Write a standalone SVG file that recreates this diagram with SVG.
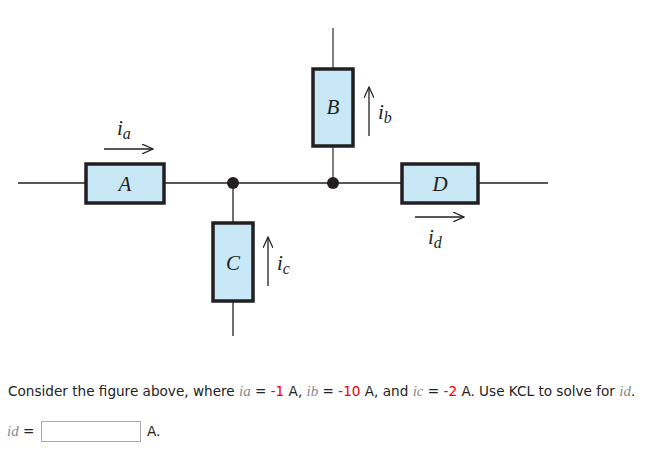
<svg xmlns="http://www.w3.org/2000/svg" width="658" height="452" viewBox="0 0 658 452">
<defs>
<style>
.box{fill:#c8e8f8;stroke:#231f20;stroke-width:3.5}
.w{stroke:#231f20;stroke-width:1.3;fill:none}
.g{stroke:#808080;stroke-width:2;fill:none}
.lbl{font-family:"Liberation Serif",serif;font-style:italic;font-size:21px;fill:#231f20;text-anchor:middle}
.cur{font-family:"Liberation Serif",serif;font-style:italic;font-size:21px;fill:#231f20}
.sub{font-size:16px}
.t{font-family:"DejaVu Sans",Verdana,sans-serif;font-size:13.6px;fill:#222}
.r{fill:#e00}
.v{font-family:"Liberation Serif",serif;font-style:italic;font-size:15px;fill:#888}
</style>
<marker id="ar" markerWidth="12" markerHeight="10" refX="11" refY="5" orient="auto" markerUnits="userSpaceOnUse">
<path d="M0,0 L11,5 L0,10" fill="none" stroke="#231f20" stroke-width="1.2"/>
</marker>
</defs>
<g id="connectors">
<line class="w" x1="18" y1="183" x2="548" y2="183"/>
<line class="g" x1="333" y1="28" x2="333" y2="183"/>
<line class="w" x1="233" y1="183" x2="233" y2="336"/>
<line class="w" x1="104" y1="149" x2="153" y2="149" marker-end="url(#ar)"/>
<line class="w" x1="369" y1="136" x2="369" y2="87" marker-end="url(#ar)"/>
<line class="w" x1="268" y1="286" x2="268" y2="237" marker-end="url(#ar)"/>
<line class="w" x1="415" y1="217" x2="464" y2="217" marker-end="url(#ar)"/>
<circle cx="233" cy="183" r="6" fill="#231f20"/>
<circle cx="333" cy="183" r="6" fill="#231f20"/>
</g>
<g id="A"><rect class="box" x="86" y="164" width="78" height="39"/><text class="lbl" x="125" y="191">A</text></g>
<g id="B"><rect class="box" x="313" y="69" width="40" height="77"/><text class="lbl" x="333" y="114">B</text></g>
<g id="C"><rect class="box" x="213" y="223" width="40" height="78"/><text class="lbl" x="233" y="270">C</text></g>
<g id="D"><rect class="box" x="402" y="164" width="76" height="39"/><text class="lbl" x="440" y="191">D</text></g>
<g id="labels">
<text class="cur" x="117" y="135">i<tspan class="sub" dy="4">a</tspan></text>
<text class="cur" x="378" y="119">i<tspan class="sub" dy="4">b</tspan></text>
<text class="cur" x="277" y="270">i<tspan class="sub" dy="4">c</tspan></text>
<text class="cur" x="428" y="244">i<tspan class="sub" dy="4">d</tspan></text>
</g>
<g id="question">
<text class="t" x="8" y="396">Consider the figure above, where <tspan class="v">i</tspan><tspan class="v" font-size="12">a</tspan> = <tspan class="r">-1</tspan> A, <tspan class="v">i</tspan><tspan class="v" font-size="12">b</tspan> = <tspan class="r">-10</tspan> A, and <tspan class="v">i</tspan><tspan class="v" font-size="12">c</tspan> = <tspan class="r">-2</tspan> A. Use KCL to solve for <tspan class="v">i</tspan><tspan class="v" font-size="12">d</tspan>.</text>
<text class="t" x="7" y="436"><tspan class="v">i</tspan><tspan class="v" font-size="12">d</tspan> =</text>
<rect x="41.5" y="421.5" width="99" height="20" fill="#fff" stroke="#aaa"/>
<text class="t" x="147" y="436">A.</text>
</g>
</svg>
